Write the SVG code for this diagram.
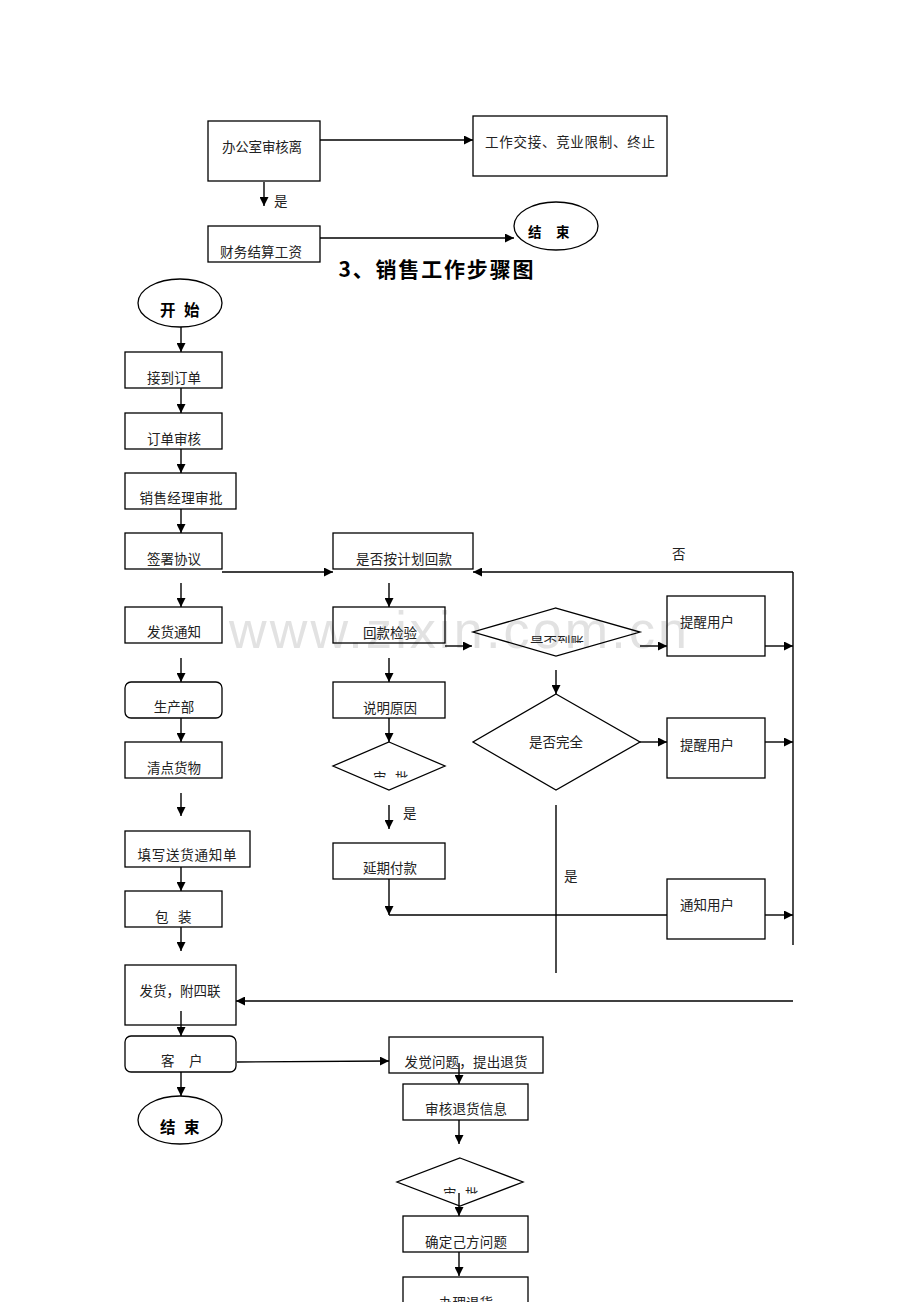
<svg xmlns="http://www.w3.org/2000/svg" width="920" height="1302" viewBox="0 0 920 1302">
<style>
.box{fill:none;stroke:#000;stroke-width:1.3}
.ln{fill:none;stroke:#000;stroke-width:1.4}
.arr{fill:none;stroke:#000;stroke-width:1.4;marker-end:url(#ah)}
.t{font-family:"Noto Sans CJK SC","Noto Sans",sans-serif;font-size:13.5px;fill:#222}
.tc{text-anchor:middle}
.b{font-family:"Noto Sans CJK SC","Noto Sans",sans-serif;font-weight:bold;fill:#000}
.wm{font-family:"Liberation Sans",Arial,sans-serif;font-size:52px;fill:#e2e2e2}
</style>
<defs>
<marker id="ah" viewBox="0 0 10 10" refX="10" refY="5" markerWidth="9" markerHeight="9" markerUnits="userSpaceOnUse" orient="auto">
<path d="M0,0 L10,5 L0,10 z" fill="#000"/>
</marker>
<clipPath id="c1"><rect x="470" y="600" width="180" height="43"/></clipPath>
<clipPath id="c2"><rect x="330" y="740" width="120" height="37.5"/></clipPath>
<clipPath id="c3"><rect x="395" y="1155" width="130" height="38.5"/></clipPath>
</defs>

<text class="wm" x="229" y="648" textLength="458" lengthAdjust="spacing">www.zixin.com.cn</text>

<g id="connectors">
<line class="arr" x1="320" y1="140" x2="473" y2="140"/>
<line class="arr" x1="264" y1="182" x2="264" y2="206"/>
<line class="arr" x1="320" y1="238" x2="514" y2="238"/>

<line class="arr" x1="181" y1="327" x2="181" y2="352"/>
<line class="arr" x1="181" y1="388" x2="181" y2="413"/>
<line class="arr" x1="181" y1="449" x2="181" y2="473"/>
<line class="arr" x1="181" y1="509" x2="181" y2="533"/>
<line class="arr" x1="222" y1="572" x2="333" y2="572"/>
<line class="arr" x1="181" y1="583" x2="181" y2="607"/>
<line class="arr" x1="181" y1="658" x2="181" y2="682"/>
<line class="arr" x1="181" y1="718" x2="181" y2="742"/>
<line class="arr" x1="181" y1="793" x2="181" y2="816"/>
<line class="arr" x1="181" y1="867" x2="181" y2="891"/>
<line class="arr" x1="181" y1="927" x2="181" y2="951"/>
<line class="arr" x1="181" y1="1011" x2="181" y2="1036"/>
<line class="arr" x1="181" y1="1072" x2="181" y2="1096"/>
<line class="arr" x1="237" y1="1062" x2="389" y2="1061"/>

<line class="arr" x1="389" y1="583" x2="389" y2="607"/>
<line class="arr" x1="445" y1="646" x2="472" y2="646"/>
<line class="arr" x1="389" y1="658" x2="389" y2="682"/>
<line class="arr" x1="389" y1="718" x2="389" y2="742"/>
<line class="arr" x1="389" y1="805" x2="389" y2="829"/>
<line class="arr" x1="389" y1="879" x2="389" y2="915"/>
<line class="ln" x1="389" y1="915" x2="667" y2="915"/>

<line class="arr" x1="640" y1="646" x2="667" y2="646"/>
<line class="arr" x1="765" y1="646" x2="793" y2="646"/>
<line class="arr" x1="556" y1="670" x2="556" y2="694"/>
<line class="arr" x1="640" y1="742" x2="667" y2="742"/>
<line class="arr" x1="765" y1="742" x2="793" y2="742"/>
<line class="ln" x1="556" y1="805" x2="556" y2="973"/>
<line class="arr" x1="765" y1="915" x2="793" y2="915"/>
<line class="ln" x1="793" y1="572" x2="793" y2="945"/>
<line class="arr" x1="793" y1="572" x2="473" y2="572"/>
<line class="arr" x1="793" y1="1001" x2="236" y2="1001"/>

<line class="arr" x1="459" y1="1063" x2="459" y2="1084"/>
<line class="arr" x1="459" y1="1120" x2="459" y2="1144"/>
<line class="arr" x1="459" y1="1193" x2="459" y2="1216"/>
<line class="arr" x1="459" y1="1252" x2="459" y2="1276"/>
</g>

<g id="n_office"><rect class="box" x="208" y="121" width="112" height="60"/><text class="t" x="222" y="152" textLength="80">办公室审核离</text></g>
<g id="n_handover"><rect class="box" x="473" y="116" width="194" height="60"/><text class="t" x="485" y="147" textLength="170" lengthAdjust="spacing">工作交接、竞业限制、终止</text></g>
<g id="l_yes1"><text class="t" x="274" y="206">是</text></g>
<g id="n_finance"><rect class="box" x="208" y="226" width="112" height="36"/><text class="t" x="220" y="257" textLength="82">财务结算工资</text></g>
<g id="n_end1"><ellipse class="box" cx="556" cy="226" rx="42" ry="24"/><text class="b" x="528 556" y="237" font-size="13.5">结束</text></g>

<g id="title"><text class="b" x="436" y="277" font-size="21" text-anchor="middle" textLength="195">3、销售工作步骤图</text></g>

<g id="n_start"><ellipse class="box" cx="180" cy="303" rx="42" ry="24"/><text class="b" x="160 184" y="316" font-size="15.5">开始</text></g>
<g id="n_order"><rect class="box" x="125" y="352" width="97" height="36"/><text class="t tc" x="174" y="383">接到订单</text></g>
<g id="n_review"><rect class="box" x="125" y="413" width="97" height="36"/><text class="t tc" x="174" y="444">订单审核</text></g>
<g id="n_mgr"><rect class="box" x="125" y="473" width="111" height="36"/><text class="t tc" x="181" y="503" textLength="83">销售经理审批</text></g>
<g id="n_sign"><rect class="box" x="125" y="533" width="97" height="36"/><text class="t tc" x="174" y="564">签署协议</text></g>
<g id="n_notice"><rect class="box" x="125" y="607" width="97" height="36"/><text class="t tc" x="174" y="637">发货通知</text></g>
<g id="n_prod"><rect class="box" x="125" y="682" width="97" height="36" rx="6"/><text class="t tc" x="174" y="712" font-size="12.5">生产部</text></g>
<g id="n_count"><rect class="box" x="125" y="742" width="97" height="36"/><text class="t tc" x="174" y="773">清点货物</text></g>
<g id="n_form"><rect class="box" x="125" y="831" width="125" height="36"/><text class="t tc" x="187" y="860" textLength="99">填写送货通知单</text></g>
<g id="n_pack"><rect class="box" x="125" y="891" width="97" height="36"/><text class="t" x="155 178" y="922">包装</text></g>
<g id="n_ship"><rect class="box" x="125" y="965" width="111" height="60"/><text class="t tc" x="180" y="996">发货，附四联</text></g>
<g id="n_cust"><rect class="box" x="125" y="1036" width="111" height="36" rx="6"/><text class="t" x="161 189" y="1066" font-size="12">客户</text></g>
<g id="n_end2"><ellipse class="box" cx="180" cy="1120" rx="42" ry="24"/><text class="b" x="160 184" y="1133" font-size="15.5">结束</text></g>

<g id="n_plan"><rect class="box" x="333" y="533" width="140" height="36"/><text class="t tc" x="404" y="564" textLength="96">是否按计划回款</text></g>
<g id="n_check"><rect class="box" x="333" y="607" width="112" height="36"/><text class="t tc" x="390" y="638">回款检验</text></g>
<g id="n_reason"><rect class="box" x="333" y="682" width="112" height="36"/><text class="t tc" x="390" y="713">说明原因</text></g>
<g id="n_approve1"><polygon class="box" points="389,742 445,766 389,790 333,766"/><text class="t" x="373 395" y="783" font-size="12" clip-path="url(#c2)">审批</text></g>
<g id="l_yes2"><text class="t" x="403" y="818" font-size="15">是</text></g>
<g id="n_delay"><rect class="box" x="333" y="843" width="112" height="36"/><text class="t tc" x="390" y="873">延期付款</text></g>

<g id="n_arrived"><polygon class="box" points="556,608 640,632 556,656 473,632"/><text class="t tc" x="557" y="647" font-size="12.5" clip-path="url(#c1)">是否到账</text></g>
<g id="n_remind1"><rect class="box" x="667" y="596" width="98" height="60"/><text class="t" x="680" y="627">提醒用户</text></g>
<g id="n_complete"><polygon class="box" points="556,694 640,742 556,790 473,742"/><text class="t tc" x="556" y="747">是否完全</text></g>
<g id="n_remind2"><rect class="box" x="667" y="718" width="98" height="60"/><text class="t" x="680" y="750">提醒用户</text></g>
<g id="l_yes3"><text class="t" x="564" y="881" font-size="15">是</text></g>
<g id="n_inform"><rect class="box" x="667" y="879" width="98" height="60"/><text class="t" x="680" y="910">通知用户</text></g>
<g id="l_no"><text class="t" x="672" y="559" font-size="15">否</text></g>

<g id="n_problem"><rect class="box" x="389" y="1037" width="154" height="36"/><text class="t tc" x="466" y="1067" textLength="123">发觉问题，提出退货</text></g>
<g id="n_rinfo"><rect class="box" x="403" y="1084" width="125" height="36"/><text class="t tc" x="466" y="1114" textLength="82">审核退货信息</text></g>
<g id="n_approve2"><polygon class="box" points="460,1158 523,1182 460,1206 397,1182"/><text class="t" x="443 465" y="1199" font-size="12" clip-path="url(#c3)">审批</text></g>
<g id="n_confirm"><rect class="box" x="403" y="1216" width="125" height="36"/><text class="t tc" x="466" y="1247" textLength="82">确定己方问题</text></g>
<g id="n_return"><rect class="box" x="403" y="1277" width="125" height="40"/><text class="t tc" x="466" y="1308">办理退货</text></g>
</svg>
